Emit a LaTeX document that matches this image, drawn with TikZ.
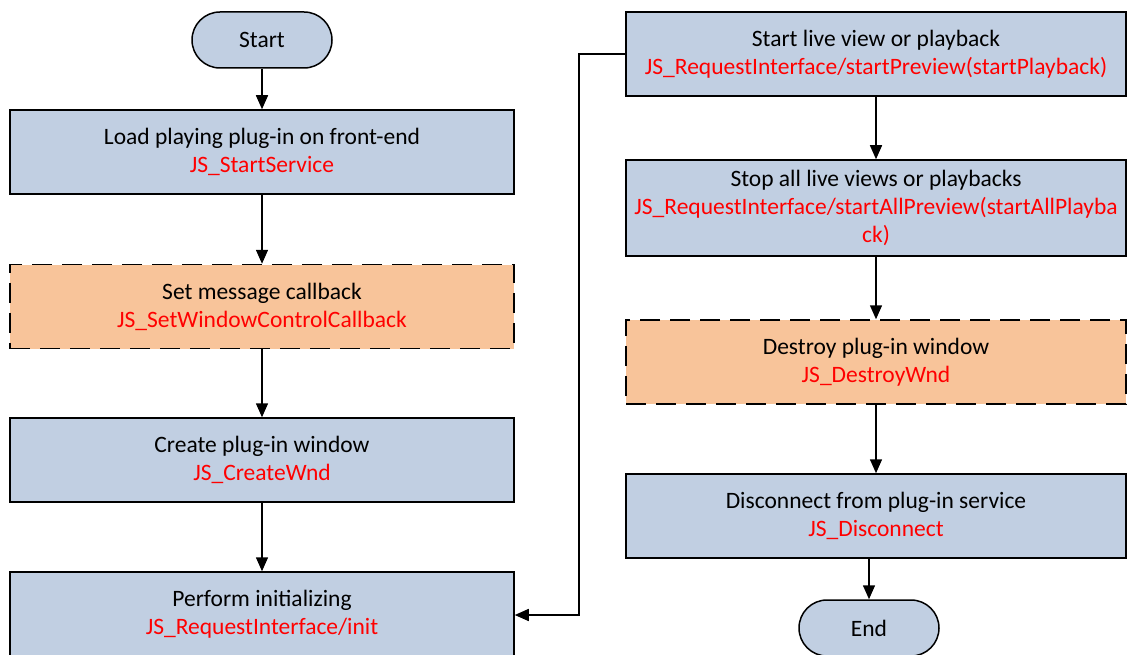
\documentclass[tikz,border=0pt]{standalone}
\usepackage{fontspec}
\setmainfont{Carlito}
\usetikzlibrary{arrows.meta}
\definecolor{boxblue}{RGB}{193,207,226}
\definecolor{boxorange}{RGB}{248,196,154}
\definecolor{fnred}{RGB}{255,0,0}
\begin{document}
\begin{tikzpicture}[x=1pt,y=-1pt,
  every node/.style={font=\fontsize{23.5}{28}\selectfont, align=center, inner sep=0pt},
  procbox/.style={draw=black, line width=1.5pt, fill=boxblue, minimum width=504pt, minimum height=84pt},
  optbox/.style={draw=black, line width=1.5pt, fill=boxorange, minimum width=504pt, minimum height=84pt, dash pattern=on 20pt off 10pt},
  term/.style={draw=black, line width=1.5pt, fill=boxblue, rounded corners=28pt, minimum width=140pt, minimum height=56pt},
  flow/.style={draw=black, line width=1.5pt, -{Triangle[length=14pt,width=12pt]}},
  fn/.style={text=fnred}
]
\clip (0,0) rectangle (1127,655);
\fill[white] (0,0) rectangle (1127,655);
% left column
\node[term] (start) at (262,40) {Start};
\node[procbox] (load) at (262,152) {Load playing plug-in on front-end\\\textcolor{fnred}{JS\_StartService}};
\node[optbox] (msg) at (262,306.5) {Set message callback\\\textcolor{fnred}{JS\_SetWindowControlCallback}};
\node[procbox] (create) at (262,460) {Create plug-in window\\\textcolor{fnred}{JS\_CreateWnd}};
\node[procbox] (init) at (262,614) {Perform initializing\\\textcolor{fnred}{JS\_RequestInterface/init}};
% right column
\node[procbox, minimum width=500pt] (live) at (876,54) {Start live view or playback\\\textcolor{fnred}{JS\_RequestInterface/startPreview(startPlayback)}};
\node[procbox, minimum width=500pt, minimum height=96pt] (stop) at (876,208) {Stop all live views or playbacks\\\textcolor{fnred}{JS\_RequestInterface/startAllPreview(startAllPlayba}\\\textcolor{fnred}{ck)}};
\node[optbox, minimum width=500pt] (destroy) at (876,362) {Destroy plug-in window\\\textcolor{fnred}{JS\_DestroyWnd}};
\node[procbox, minimum width=500pt] (disc) at (876,516) {Disconnect from plug-in service\\\textcolor{fnred}{JS\_Disconnect}};
\node[term] (end) at (869,628) {End};
% connectors
\draw[flow] (start) -- (load);
\draw[flow] (load) -- (msg);
\draw[flow] (msg) -- (create);
\draw[flow] (create) -- (init);
\coordinate (jt) at (579,54);
\coordinate (jb) at (579,615);
\draw[flow] (live.west) -- (jt) -- (jb) -- (init.east |- jb);
\draw[flow] (live.south) -- (stop.north);
\draw[flow] (stop.south) -- (destroy.north);
\draw[flow] (destroy.south) -- (disc.south |- destroy.south) -- (disc.north);
\draw[flow] (disc.south -| end.north) -- (end.north);
\end{tikzpicture}
\end{document}
